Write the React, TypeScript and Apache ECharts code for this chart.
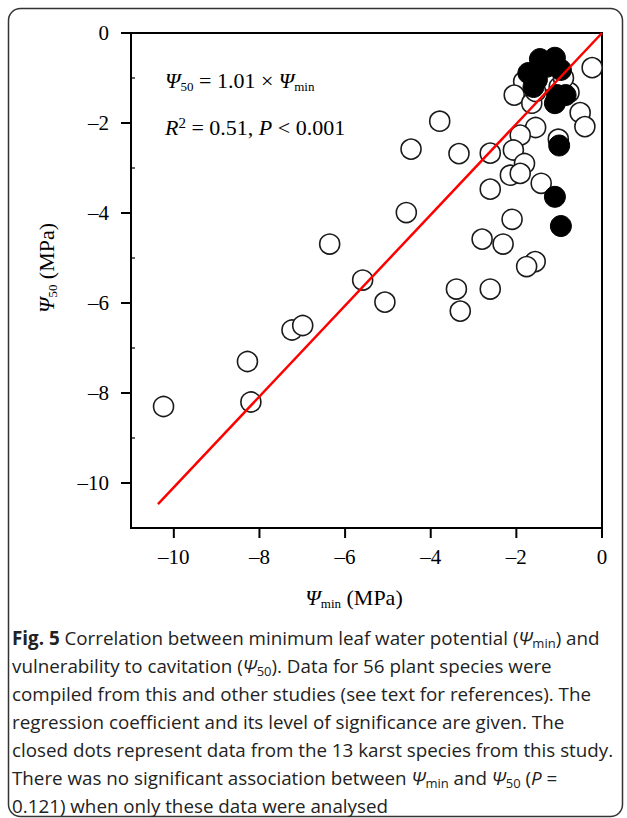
import React, { useEffect, useRef } from 'react';
import * as echarts from 'echarts';

// Open circles: species compiled from other studies
const xOpen = [
  -10.24, -8.28, -8.2, -7.24, -6.99, -6.36, -5.59, -5.07, -4.57, -4.46,
  -3.79, -3.4, -3.31, -3.34, -2.61, -2.61, -2.8, -2.31, -2.61, -0.23,
  -1.83, -2.05, -1.64, -0.77, -0.51, -0.4, -1.55, -1.91, -1.02, -2.07,
  -1.81, -2.14, -1.91, -1.42, -2.1, -1.56, -1.76, -1.45, -1.25, -1.0,
  -1.55, -0.9, -1.3,
];
const yOpen = [
  -8.3, -7.3, -8.2, -6.6, -6.5, -4.69, -5.49, -5.98, -3.99, -2.58,
  -1.96, -5.69, -6.18, -2.68, -2.67, -3.47, -4.58, -4.69, -5.69, -0.77,
  -1.08, -1.38, -1.56, -1.32, -1.77, -2.08, -2.1, -2.27, -2.36, -2.6,
  -2.9, -3.16, -3.12, -3.34, -4.14, -5.08, -5.19, -0.95, -1.05, -1.2,
  -1.3, -1.0, -0.7,
];
// Closed circles: 13 karst species from this study
const xClosed = [-1.45, -1.1, -1.72, -1.52, -0.96, -1.05, -1.1, -1.0, -1.1, -0.96, -1.29, -0.85, -1.6];
const yClosed = [-0.58, -0.55, -0.89, -1.04, -0.82, -1.38, -1.56, -2.5, -3.64, -4.29, -0.75, -1.38, -1.2];
// Regression line end points (Psi50 = 1.01 x Psimin)
const regX = [-10.37, 0];
const regY = [-10.47, 0];

const xTicks = [-10, -8, -6, -4, -2, 0];
const yTicks = [0, -2, -4, -6, -8, -10];
const yMinorTicks = [-1, -3, -5, -7, -9];

const captionLines = [
  '{b|Fig. 5} Correlation between minimum leaf water potential ({ci|Ψ}{cs|min}) and',
  'vulnerability to cavitation ({ci|Ψ}{cs|50}). Data for 56 plant species were',
  'compiled from this and other studies (see text for references). The',
  'regression coefficient and its level of significance are given. The',
  'closed dots represent data from the 13 karst species from this study.',
  'There was no significant association between {ci|Ψ}{cs|min} and {ci|Ψ}{cs|50} ({ci|P} =',
  '0.121) when only these data were analysed',
];

export default function App() {
  const ref = useRef<HTMLDivElement>(null);
  useEffect(() => {
    const chart = echarts.init(ref.current!, null, { renderer: 'svg' });
    const serif = '"Liberation Serif", "Times New Roman", serif';
    const sans = '"Open Sans", "Noto Sans", sans-serif';
    const fmt = (v: number) => {
      const r = Math.round(v);
      if (r % 2 !== 0) return '';
      return r < 0 ? '–' + Math.abs(r) : String(r);
    };
    const mathRich = {
      i: { fontFamily: serif, fontStyle: 'italic', fontSize: 22, fill: '#000' },
      n: { fontFamily: serif, fontSize: 22, fill: '#000' },
      s: { fontFamily: serif, fontSize: 13, fill: '#000', padding: [12, 0, 0, 0] },
      sup: { fontFamily: serif, fontSize: 15, fill: '#000', padding: [0, 0, 8, 0] },
    };
    const capSize = 18.8;
    const capRich = {
      b: { fontFamily: sans, fontWeight: 'bold', fontSize: capSize, fill: '#222' },
      ci: { fontFamily: sans, fontStyle: 'italic', fontSize: capSize, fill: '#222' },
      cs: { fontFamily: sans, fontSize: 13, fill: '#222', padding: [9, 0, 0, 0] },
    };
    const tickSeries = (vals: number[], kind: 'x' | 'y' | 'ym') => ({
      type: 'custom',
      silent: true,
      clip: false,
      z: 5,
      data: vals.map((v) => [v]),
      renderItem: (_p: any, api: any) => {
        const v = api.value(0);
        if (kind === 'x') {
          const p = api.coord([v, -11]);
          return { type: 'line', shape: { x1: p[0], y1: p[1], x2: p[0], y2: p[1] + 10 }, style: { stroke: '#000', lineWidth: 2 } };
        }
        const p = api.coord([-11, v]);
        const len = kind === 'y' ? -10 : 4;
        return { type: 'line', shape: { x1: p[0], y1: p[1], x2: p[0] + len, y2: p[1] }, style: { stroke: '#000', lineWidth: kind === 'y' ? 2 : 1.2 } };
      },
    });

    const option: any = {
      animation: false,
      backgroundColor: '#fff',
      grid: { left: 131, top: 33, right: 25, bottom: 290, show: true, borderColor: '#000', borderWidth: 2, backgroundColor: 'transparent' },
      xAxis: {
        type: 'value', min: -11, max: 0, interval: 1,
        axisLine: { show: false }, axisTick: { show: false }, splitLine: { show: false },
        axisLabel: { formatter: fmt, fontFamily: serif, fontSize: 21, color: '#000', margin: 18 },
      },
      yAxis: {
        type: 'value', min: -11, max: 0, interval: 1,
        axisLine: { show: false }, axisTick: { show: false }, splitLine: { show: false },
        axisLabel: { formatter: fmt, fontFamily: serif, fontSize: 21, color: '#000', margin: 22 },
      },
      series: [
        {
          type: 'scatter', z: 2, symbol: 'circle', symbolSize: 20,
          data: xOpen.map((x, i) => [x, yOpen[i]]),
          itemStyle: { color: '#fff', borderColor: '#1a1a1a', borderWidth: 1.6, opacity: 1 },
        },
        {
          type: 'scatter', z: 3, symbol: 'circle', symbolSize: 21,
          data: xClosed.map((x, i) => [x, yClosed[i]]),
          itemStyle: { color: '#000', borderColor: '#000', borderWidth: 1, opacity: 1 },
        },
        {
          type: 'line', z: 4, symbol: 'none', silent: true,
          data: regX.map((x, i) => [x, regY[i]]),
          lineStyle: { color: '#ff0000', width: 2.5 },
        },
        tickSeries(xTicks, 'x'),
        tickSeries(yTicks, 'y'),
        tickSeries(yMinorTicks, 'ym'),
      ],
      graphic: [
        {
          type: 'rect', z: 0, silent: true,
          shape: { x: 8.5, y: 8.5, width: 614, height: 808, r: 12 },
          style: { fill: 'none', stroke: '#333', lineWidth: 1.5 },
        },
        {
          type: 'text', x: 165, y: 80,
          style: { text: '{i|Ψ}{s|50}{n| = 1.01 × }{i|Ψ}{s|min}', rich: mathRich, verticalAlign: 'middle', align: 'left' },
        },
        {
          type: 'text', x: 165, y: 127,
          style: { text: '{i|R}{sup|2}{n| = 0.51, }{i|P}{n| < 0.001}', rich: mathRich, verticalAlign: 'middle', align: 'left' },
        },
        {
          type: 'text', x: 354, y: 597,
          style: { text: '{i|Ψ}{s|min}{n| (MPa)}', rich: mathRich, verticalAlign: 'middle', align: 'center' },
        },
        {
          type: 'text', x: 46, y: 268, rotation: Math.PI / 2,
          style: { text: '{i|Ψ}{s|50}{n| (MPa)}', rich: mathRich, verticalAlign: 'middle', align: 'center' },
        },
        ...captionLines.map((t, i) => ({
          type: 'text', x: 12, y: 638 + i * 28,
          style: { text: t, rich: capRich, fontFamily: sans, fontSize: capSize, fill: '#222', verticalAlign: 'middle', align: 'left' },
        })),
      ],
    };
    chart.setOption(option);
    return () => chart.dispose();
  }, []);
  return <div ref={ref} style={{ position: 'absolute', left: 0, top: 0, width: 627, height: 818 }} />;
}
